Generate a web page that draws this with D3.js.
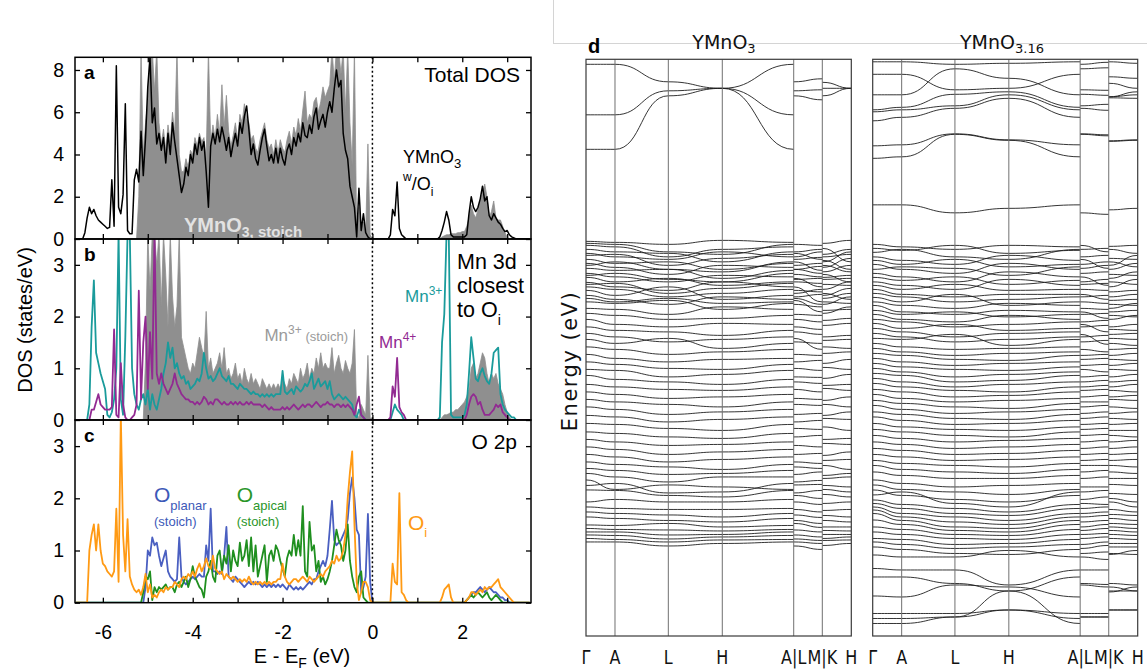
<!DOCTYPE html>
<html>
<head>
<meta charset="utf-8">
<script src="https://cdn.jsdelivr.net/npm/d3@7"></script>
<style>
  body { margin: 0; background: #fff; }
  svg { display: block; }
</style>
</head>
<body>
<svg id="chart" width="1147" height="670"></svg>
<script>
// ---- DOS data: runs of values on a 0.05 eV grid, [start energy, values] ----
const eStart = -6.6, eStep = 0.05, nPts = 203;

const totalOi = [
  [-6.40, [0.3,1.0,1.5,1.2,1.4,1.1,0.9,0.8,0.7,0.6, 0.5,0.55,2.8,0.6,8.2,1.5,1.2,2.1,6.4,0.4,
    0.25,0.25,2.8,3.3,2.7,5.1,3.0,4.8,7.2,8.6, 5.5,6.2,4.5,5.0,4.2,4.8,3.6,5.0,4.0,5.5,
    4.6,3.8,3.0,2.2,2.6,3.4,3.0,4.0,3.6,4.5, 4.0,4.8,4.2,4.6,3.2,1.5,4.4,5.0,4.5,5.2,
    4.6,5.3,4.8,4.2,4.8,3.9,4.5,5.0,4.4,5.5, 5.0,5.8,6.3,5.2,4.0,4.5,3.8,3.5,4.2,4.8,
    5.2,4.4,3.7,4.0,3.6,4.3,3.6,4.3,3.8,3.5, 4.2,4.5,4.0,4.8,4.4,5.0,4.6,5.5,4.9,4.8,
    5.4,5.0,5.8,6.2,5.2,5.6,5.9,5.3,6.0,6.5, 6.0,7.1,8.0,7.2,7.5,5.0,4.2,3.8,2.5,2.0,
    1.5,0.1,2.4,0.4,1.2,0.3,0.1]],
  [0.40, [0.2,1.4,1.1,2.7,0.5,0.2,0.1]],
  [1.50, [0.1,0.4,0.8,1.3,0.9,0.2,0.1,0.1,0.1,0.1,0.1,0.1]],
  [2.10, [0.2,1.2,2.0,1.5,1.3,1.5,1.9,2.5,1.8,2.0,1.1,0.9,1.2,1.0,0.8,0.7,0.5,0.35,0.4,0.2,0.1,0.05]]
];
const totalStoich = [
  [-5.20, [2.0,9,4.0,5.5,6.5,9,9,7.0,9,5.5, 4.5,5.2,4.2,5.4,4.6,6.0,5.0,9,4.0,3.2,
    3.2,3.8,3.4,4.2,4.0,4.8,4.4,5.0,4.6,4.8, 3.8,9,4.6,5.4,4.8,5.9,5.0,7.3,5.3,6.8,
    5.1,4.4,4.9,5.5,4.7,5.9,5.5,6.4,5.7,5.5, 4.7,4.9,4.3,4.1,4.7,5.1,5.5,4.7,4.3,4.5,
    4.0,4.7,4.1,4.7,4.3,4.1,4.7,5.1,4.5,5.3, 4.9,5.7,5.1,6.1,7.0,5.5,5.9,5.7,6.5,6.7,
    6.0,6.5,7.2,6.7,7.0,7.3,9,7.5,9,9, 7.8,9,6.0,9,5.5,3.5,9,0.2,1.5,0.5,
    0.8,0.3,4.5,0.2]],
  [1.55, [0.1,0.15,0.2,0.2,0.25,0.25,0.25,0.3,0.3,0.35,0.35,
    0.6,1.0,1.6,1.2,1.0,1.4,1.8,2.2,2.6,2.0,1.0,1.3,1.8,1.0,0.9,0.9,0.6,0.3,0.1]]
];
const mnStoich = [
  [-5.05, [1.2,3.6,2.5,3.6,3.6,3.0,3.6,2.2,3.6,2.8, 1.8,3.6,2.4,1.8,2.2,3.6,1.6,1.4,1.2,1.0,
    0.9,1.1,1.0,1.3,1.6,1.4,1.2,2.1,1.0,1.2, 0.9,1.0,1.1,1.3,1.0,1.4,0.9,1.0,0.8,0.9,
    1.1,0.8,0.9,0.7,1.0,0.8,0.7,0.9,0.7,0.8, 0.7,0.6,0.8,0.7,0.6,0.7,0.6,0.7,0.6,0.7,
    0.6,0.8,0.7,0.6,0.8,0.7,0.9,0.8,0.7,1.0, 0.8,0.9,1.1,0.8,1.0,0.9,1.2,1.0,1.3,1.0,
    1.1,1.0,1.0,1.4,0.9,1.1,1.25,1.0,0.9,1.15, 1.0,0.9,1.1,1.75,0.1,0.05,0.3,0.2,0.1,1.25,0.05]],
  [1.55, [0.05,0.1,0.1,0.12,0.15,0.15,0.2,0.2,0.25,0.3,0.35,
    0.45,0.6,1.0,1.1,0.8,0.9,1.1,1.3,1.2,0.9,0.7,0.9,0.8,0.9,0.7,0.6,0.5,0.3,0.15,0.05]]
];
const mn3Oi = [
  [-6.30, [0.3,1.8,2.7,1.3,1.1,0.9,0.75,0.6,0.1,0.05, 0.15,0.4,1.0,3.6,0.4,0.1,1.6,3.6,3.6,1.0,
    0.5,0.3,0.2,0.4,0.5,0.3,0.6,0.2,0.5,0.3, 0.2,0.4,0.6,0.9,1.1,1.5,1.2,1.4,1.0,1.1,
    0.9,0.8,0.85,0.7,0.75,0.6,0.65,0.7,0.8,0.75, 0.9,1.3,1.0,0.8,0.85,0.75,0.8,0.9,1.0,0.85,
    0.8,0.75,0.85,0.7,0.7,0.65,0.6,0.7,0.65,0.6, 0.6,0.55,0.5,0.55,0.5,0.5,0.45,0.5,0.45,0.5,
    0.45,0.5,0.45,0.5,0.5,0.5,0.95,0.55,0.5,0.55, 0.6,0.5,0.65,0.6,0.55,0.6,0.7,0.65,0.75,0.9,
    0.6,0.7,0.8,0.65,0.7,0.75,0.6,0.75,0.5,0.4, 0.45,0.5,0.45,0.4,0.45,0.4,0.35,0.3,0.1,0.05,
    0.2,0.1,0.05]],
  [0.45, [0.15,0.3,0.2,0.15,0.1]],
  [1.50, [0.05,1.5,2.05,3.6,3.6,0.1,0.05,0.05,0.05,0.05,0.05,0.1]],
  [2.10, [0.3,0.9,1.6,1.2,0.8,0.75,0.9,1.0,0.85,0.75,0.7,0.9,1.3,1.35,1.4,0.5,0.3,0.2,0.15,0.1,0.05,0.05]]
];
const mn4Oi = [
  [-6.25, [0.2,0.2,0.35,0.5,0.3,0.25,0.2,0.2,0.2,0.25, 1.75,0.1,0.05,1.1,0.3,0.05,0,0,0.05,0.1,
    0.3,2.5,0.4,1.5,2.0,0.6,1.7,0.8,3.6,0.9, 0.7,0.9,0.7,0.6,0.5,0.6,0.7,0.9,0.7,0.6,
    0.5,0.45,0.4,0.4,0.35,0.35,0.3,0.35,0.3,0.35, 0.45,0.4,0.3,0.35,0.3,0.4,0.4,0.35,0.3,0.35,
    0.3,0.3,0.35,0.3,0.35,0.3,0.35,0.3,0.3,0.35, 0.3,0.35,0.3,0.3,0.3,0.3,0.25,0.3,0.25,0.2,
    0.25,0.2,0.2,0.2,0.2,0.25,0.2,0.25,0.2,0.25, 0.3,0.25,0.2,0.25,0.3,0.25,0.3,0.3,0.25,0.3,
    0.35,0.3,0.25,0.3,0.3,0.35,0.3,0.3,0.25,0.3, 0.3,0.25,0.3,0.25,0.3,0.25,0.2,0.1,0.3,0.45,
    0.1,0.05]],
  [0.40, [0.05,0.65,0.45,1.2,0.25,0.15,0.1]],
  [2.10, [0.1,0.3,0.45,0.5,0.45,0.3,0.35,0.2,0.1,0.1,0.1,0.15,0.2,0.3,0.25,0.3,0.15,0.1,0.05]]
];
const oPlanar = [
  [-5.05, [0.3,1.0,0.9,1.25,1.1,1.15,0.9,0.7,0.85,1.0, 0.6,0.5,0.45,0.4,0.45,1.25,0.5,0.4,0.35,0.4,
    0.45,0.5,0.45,0.5,0.55,0.5,0.5,1.1,0.8,1.8, 0.6,0.6,0.55,0.6,0.55,0.9,1.45,0.5,0.45,0.4,
    0.5,0.45,0.4,0.35,0.3,0.35,0.4,0.35,0.4,0.35, 0.4,0.35,0.3,0.35,0.3,0.35,0.3,0.35,0.3,0.35,
    0.3,0.35,0.3,0.25,0.35,0.3,0.25,0.3,0.25,0.3, 0.25,0.3,0.35,0.4,0.35,0.45,0.45,0.6,0.7,0.8,
    0.7,0.9,1.4,1.95,1.2,1.1,1.15,1.2,1.3,1.4, 1.6,2.1,2.4,2.0,1.4,1.3,0.2,0.3,0.5,1.7,0.4]],
  [2.10, [0.05,0.1,0.15,0.2,0.2,0.25,0.3,0.25,0.2,0.25,0.3,0.25,0.2,0.2,0.15,0.1,0.1,0.05,0.05]]
];
const oApical = [
  [-5.10, [0.2,0.5,0.45,0.6,0.05,0.3,0.2,0.3,0.25,0.3, 0.35,0.25,0.3,0.3,0.2,0.35,0.4,0.3,0.4,0.5,
    0.3,0.45,0.7,0.5,0.4,0.3,0.25,0.1,0.5,0.6, 0.8,0.5,0.4,0.9,1.0,0.6,0.9,0.75,1.1,0.6,
    1.0,0.8,0.7,1.15,0.8,0.9,1.2,0.7,1.25,0.6, 1.1,0.5,0.7,0.9,1.1,0.4,0.9,1.0,0.8,1.1,
    1.0,0.8,0.65,0.5,0.85,1.0,0.9,1.3,0.9,1.2, 0.9,1.85,0.6,0.5,1.55,1.0,1.1,0.6,0.8,0.4,
    0.5,0.35,0.45,0.6,0.8,1.1,1.4,1.2,1.1,0.8, 1.0,1.5,0.8,0.5,0.3,0.2,0.5,0.6,0.1,0.05]],
  [2.10, [0.05,0.1,0.15,0.1,0.15,0.2,0.15,0.1,0.15,0.2,0.1,0.05,0.1,0.15,0.1,0.05]]
];
const oInter = [
  [-6.30, [1.0,1.3,1.5,1.0,1.5,1.0,0.75,0.7,0.6,0.55, 0.5,0.6,1.8,0.4,3.6,1.3,0.6,1.6,0.5,0.35,
    0.25,0.2,0.25,0.15,0.3,0.55,0.2,0.35,0.1,0.15, 0.1,0.2,0.25,0.2,0.3,0.25,0.3,0.3,0.4,0.35,
    0.3,0.45,0.5,0.45,0.55,0.5,0.6,0.5,0.65,0.75, 0.6,0.7,0.85,0.7,0.65,0.9,0.65,0.6,0.55,0.6,
    0.45,0.55,0.5,0.45,0.5,0.45,0.4,0.45,0.4,0.45, 0.4,0.5,0.4,0.35,0.4,0.35,0.4,0.35,0.4,0.35,
    0.4,0.35,0.4,0.4,0.45,0.45,0.75,0.5,0.4,0.35, 0.4,0.45,0.45,0.4,0.45,0.5,0.45,0.4,0.5,0.45,
    0.4,0.45,0.5,0.55,0.5,0.6,0.65,0.7,0.8,0.75, 0.9,0.8,0.85,1.0,1.3,2.0,2.5,2.9,1.5,0.4,
    0.05,0.2,0.4,0.4,0.3,0.05]],
  [0.45, [0.75,0.4,0.35,2.1,0.2,0.15,0.05]],
  [1.55, [0.1,0.25,0.3,0.35,0.1]],
  [2.10, [0.05,0.1,0.2,0.2,0.15,0.2,0.25,0.2,0.3,0.25,0.3,0.3,0.35,0.4,0.45,0.3,0.25,0.2,0.15,0.1,0.05]]
];

// ---- band data: [Γ, A, L, H, M, K] in eV ----
const kPos = [0, 0.1093, 0.3103, 0.5137, 0.7829, 0.8907, 1];
const kNames = ["Γ", "A", "L", "H", "A|L", "M|K", "H"];

const bandsStoich = [
  [3.40,3.40,3.05,2.92,3.11,3.04], [2.39,2.39,2.87,2.92,2.89,2.92], [1.70,1.70,2.77,2.92,2.69,2.77],
  [-0.14,-0.16,-0.20,-0.12,-0.22,-0.18], [-0.18,-0.20,-0.35,-0.40,-0.30,-0.45],
  [-0.22,-0.25,-0.45,-0.30,-0.35,-0.40], [-0.30,-0.35,-0.38,-0.55,-0.50,-0.28],
  [-0.38,-0.45,-0.50,-0.35,-0.46,-0.55], [-0.42,-0.40,-0.62,-0.48,-0.58,-0.66],
  [-0.50,-0.58,-0.55,-0.70,-0.72,-0.52], [-0.58,-0.66,-0.80,-0.62,-0.85,-0.75],
  [-0.62,-0.55,-0.70,-0.75,-0.78,-0.62], [-0.68,-0.72,-0.70,-0.88,-0.64,-0.90],
  [-0.78,-0.85,-0.95,-0.82,-0.98,-0.86], [-0.82,-0.78,-0.90,-0.95,-0.88,-0.80],
  [-0.86,-0.95,-0.88,-1.02,-1.05,-1.00], [-0.96,-1.05,-1.12,-0.95,-1.15,-1.10],
  [-1.00,-0.98,-1.18,-1.08,-1.10,-1.22], [-1.05,-1.10,-1.25,-1.18,-1.20,-1.28],
  [-1.12,-1.22,-1.05,-1.30,-1.35,-1.18], [-1.22,-1.30,-1.40,-1.25,-1.45,-1.40],
  [-1.28,-1.35,-1.28,-1.38,-1.40,-1.35], [-1.35,-1.38,-1.32,-1.50,-1.55,-1.52],
  [-1.48,-1.50,-1.60,-1.45,-1.62,-1.58], [-1.58,-1.62,-1.70,-1.68,-1.75,-1.72],
  [-1.70,-1.80,-1.85,-1.78,-1.90,-1.82], [-1.85,-1.92,-1.95,-2.02,-2.00,-2.05],
  [-1.98,-2.05,-2.15,-2.10,-2.18,-2.12], [-2.10,-2.18,-2.08,-2.28,-2.30,-2.25],
  [-2.25,-2.30,-2.40,-2.35,-2.42,-2.38], [-2.40,-2.48,-2.55,-2.50,-2.52,-2.58],
  [-2.55,-2.60,-2.68,-2.70,-2.72,-2.66], [-2.70,-2.72,-2.85,-2.80,-2.86,-2.88],
  [-2.82,-2.90,-2.95,-3.00,-2.98,-3.02], [-3.00,-3.05,-3.10,-3.12,-3.15,-3.08],
  [-3.15,-3.20,-3.28,-3.25,-3.30,-3.32], [-3.30,-3.35,-3.40,-3.45,-3.42,-3.40],
  [-3.45,-3.50,-3.60,-3.55,-3.58,-3.62], [-3.62,-3.65,-3.75,-3.70,-3.72,-3.68],
  [-3.78,-3.80,-3.88,-3.92,-3.90,-3.85], [-3.95,-3.98,-4.05,-4.08,-4.02,-4.10],
  [-4.10,-4.15,-4.22,-4.20,-4.25,-4.18], [-4.25,-4.30,-4.40,-4.35,-4.38,-4.42],
  [-4.40,-4.45,-4.55,-4.50,-4.58,-4.52], [-4.55,-4.60,-4.65,-4.70,-4.68,-4.62],
  [-4.68,-4.72,-4.80,-4.78,-4.75,-4.82], [-4.78,-4.85,-4.95,-4.85,-4.92,-4.88],
  [-4.91,-5.10,-5.01,-5.05,-5.00,-5.02], [-5.02,-4.98,-5.17,-5.15,-5.12,-5.10],
  [-5.11,-5.12,-5.22,-5.25,-5.28,-5.20], [-5.35,-5.30,-5.35,-5.35,-5.40,-5.38],
  [-5.45,-5.48,-5.50,-5.50,-5.55,-5.52], [-5.55,-5.58,-5.61,-5.65,-5.66,-5.62],
  [-5.65,-5.68,-5.72,-5.75,-5.78,-5.72], [-5.81,-5.82,-5.78,-5.85,-5.86,-5.85],
  [-5.88,-5.90,-5.91,-5.93,-5.95,-5.92], [-5.95,-5.95,-6.01,-6.00,-6.05,-6.00],
  [-6.01,-6.02,-6.09,-6.05,-6.12,-6.08], [-6.08,-6.10,-6.15,-6.11,-6.18,-6.12],
  [-6.15,-6.15,-6.23,-6.18,-6.30,-6.22]
];

const bandsOi = [
  [3.45,3.45,3.40,3.42,3.44,3.45], [3.20,3.20,2.89,2.92,2.88,3.02], [2.79,2.79,3.31,3.12,3.33,3.15],
  [2.49,2.54,2.80,2.85,2.78,2.75], [2.45,2.49,2.57,2.79,2.60,2.75], [2.27,2.34,2.52,2.72,2.48,2.73],
  [1.77,1.79,2.01,1.89,1.99,1.87], [1.52,1.55,2.00,1.88,1.97,1.86], [0.59,0.59,0.43,0.52,0.40,0.49],
  [-0.20,-0.25,-0.30,-0.22,-0.28,-0.24], [-0.28,-0.32,-0.22,-0.38,-0.35,-0.30],
  [-0.36,-0.30,-0.45,-0.50,-0.42,-0.48], [-0.45,-0.52,-0.60,-0.42,-0.55,-0.62],
  [-0.52,-0.60,-0.50,-0.65,-0.68,-0.55], [-0.60,-0.70,-0.78,-0.58,-0.75,-0.70],
  [-0.70,-0.65,-0.68,-0.82,-0.62,-0.80], [-0.78,-0.85,-0.95,-0.75,-0.90,-0.88],
  [-0.86,-0.92,-0.85,-1.00,-1.02,-0.95], [-0.95,-1.02,-1.10,-0.90,-1.12,-1.05],
  [-1.02,-1.10,-1.00,-1.12,-0.98,-1.15], [-1.10,-1.20,-1.25,-1.20,-1.22,-1.25],
  [-1.18,-1.25,-1.35,-1.30,-1.38,-1.32], [-1.26,-1.35,-1.20,-1.42,-1.30,-1.40],
  [-1.35,-1.42,-1.48,-1.38,-1.50,-1.48], [-1.42,-1.55,-1.60,-1.52,-1.58,-1.55],
  [-1.52,-1.60,-1.55,-1.65,-1.68,-1.62], [-1.60,-1.70,-1.75,-1.62,-1.72,-1.70],
  [-1.70,-1.75,-1.85,-1.80,-1.82,-1.85], [-1.78,-1.88,-1.80,-1.92,-1.95,-1.90],
  [-1.88,-1.95,-2.05,-1.98,-2.02,-2.00], [-1.98,-2.05,-2.15,-2.10,-2.12,-2.08],
  [-2.08,-2.10,-2.00,-2.22,-2.20,-2.18], [-2.18,-2.25,-2.30,-2.28,-2.35,-2.30],
  [-2.28,-2.35,-2.42,-2.38,-2.40,-2.42], [-2.38,-2.42,-2.50,-2.52,-2.48,-2.50],
  [-2.48,-2.55,-2.62,-2.58,-2.60,-2.62], [-2.58,-2.65,-2.70,-2.72,-2.75,-2.70],
  [-2.68,-2.75,-2.85,-2.80,-2.82,-2.85], [-2.78,-2.82,-2.95,-2.92,-2.92,-2.95],
  [-2.88,-2.95,-3.05,-3.00,-3.02,-3.05], [-2.98,-3.05,-3.12,-3.15,-3.10,-3.12],
  [-3.10,-3.15,-3.25,-3.22,-3.22,-3.25], [-3.20,-3.28,-3.35,-3.32,-3.35,-3.30],
  [-3.32,-3.38,-3.45,-3.48,-3.42,-3.45], [-3.42,-3.50,-3.58,-3.55,-3.55,-3.58],
  [-3.55,-3.60,-3.68,-3.70,-3.65,-3.68], [-3.65,-3.72,-3.80,-3.78,-3.78,-3.80],
  [-3.78,-3.85,-3.90,-3.92,-3.88,-3.92], [-3.90,-3.95,-4.02,-4.05,-4.00,-4.02],
  [-4.02,-4.08,-4.15,-4.12,-4.12,-4.15], [-4.15,-4.20,-4.28,-4.25,-4.25,-4.28],
  [-4.28,-4.32,-4.40,-4.38,-4.38,-4.40], [-4.40,-4.45,-4.52,-4.50,-4.50,-4.52],
  [-4.52,-4.58,-4.62,-4.65,-4.62,-4.62], [-4.62,-4.70,-4.75,-4.78,-4.72,-4.75],
  [-4.75,-4.82,-4.88,-4.88,-4.85,-4.88], [-4.91,-4.98,-5.05,-5.02,-5.05,-5.00],
  [-5.01,-5.10,-5.15,-5.20,-5.12,-5.18], [-5.11,-5.22,-5.30,-5.35,-5.25,-5.28],
  [-5.21,-5.15,-5.38,-5.45,-5.40,-5.35], [-5.31,-5.40,-5.48,-5.55,-5.45,-5.50],
  [-5.38,-5.48,-5.58,-5.62,-5.55,-5.60], [-5.45,-5.58,-5.65,-5.72,-5.62,-5.68],
  [-5.51,-5.65,-5.75,-5.80,-5.72,-5.78], [-5.58,-5.72,-5.85,-5.88,-5.80,-5.85],
  [-5.71,-5.80,-5.92,-5.95,-5.88,-5.92], [-5.85,-5.90,-6.00,-6.02,-5.98,-6.00],
  [-5.95,-6.00,-6.08,-6.10,-6.05,-6.08], [-6.08,-6.10,-6.20,-6.18,-6.15,-6.18],
  [-6.15,-6.20,-6.28,-6.25,-6.22,-6.25], [-6.25,-6.30,-6.38,-6.40,-6.35,-6.38],
  [-6.41,-6.45,-6.45,-6.32,-6.50,-6.40], [-6.68,-6.71,-6.71,-7.01,-6.71,-6.98],
  [-6.85,-6.85,-6.98,-7.13,-7.00,-7.05], [-7.23,-7.25,-7.01,-7.05,-7.05,-7.15],
  [-7.58,-7.58,-7.58,-7.51,-7.58,-7.51], [-7.68,-7.68,-7.65,-7.51,-7.65,-7.51],
  [-7.78,-7.78,-7.65,-7.13,-7.65,-7.13]
];

// ---- setup ----
const FONT = "'Liberation Sans', Arial, sans-serif";
const VFONT = "'DejaVu Sans', Verdana, sans-serif";
const svg = d3.select("#chart");

const colors = {
  stoich: "#8f8f8f", black: "#000", teal: "#1a9b9b", purple: "#922a92",
  blue: "#4a5fc1", green: "#1f8f1f", orange: "#ff9a14", grayText: "#9a9a9a"
};

function expand(runs) {
  const v = new Array(nPts).fill(0);
  runs.forEach(([e0, vals]) => {
    const i0 = Math.round((e0 - eStart) / eStep);
    vals.forEach((d, k) => { v[i0 + k] = d; });
  });
  return v.map((d, i) => ({ e: eStart + i * eStep, v: d }));
}

function rich(x, y, parts, opt = {}) {
  const t = svg.append("text").attr("x", x).attr("y", y)
    .attr("font-family", opt.font || FONT)
    .attr("fill", opt.fill || "#000")
    .attr("text-anchor", opt.anchor || "start");
  if (opt.weight) t.attr("font-weight", opt.weight);
  if (opt.spacing) t.attr("letter-spacing", opt.spacing);
  parts.forEach(p => {
    const s = t.append("tspan").text(p[0]).attr("font-size", p[1]);
    if (p[2]) s.attr("dy", p[2]);
  });
  return t;
}

// ---- DOS panels ----
const x = d3.scaleLinear().domain([-6.62, 3.53]).range([75, 531]);
const panels = [
  { name: "a", top: 57.3, bottom: 239, max: 8.6, ticks: [0, 2, 4, 6, 8] },
  { name: "b", top: 239, bottom: 420, max: 3.5, ticks: [0, 1, 2, 3] },
  { name: "c", top: 420, bottom: 602.7, max: 3.5, ticks: [0, 1, 2, 3] }
];
panels.forEach(p => {
  p.y = d3.scaleLinear().domain([0, p.max]).range([p.bottom, p.top]);
  svg.append("clipPath").attr("id", "clip-" + p.name)
    .append("rect").attr("x", 75).attr("y", p.top)
    .attr("width", 456).attr("height", p.bottom - p.top);
  p.g = svg.append("g").attr("clip-path", `url(#clip-${p.name})`);
});

const series = [
  { panel: 0, runs: totalStoich, kind: "area" },
  { panel: 0, runs: totalOi, color: colors.black, width: 1.5 },
  { panel: 1, runs: mnStoich, kind: "area" },
  { panel: 1, runs: mn3Oi, color: colors.teal, width: 1.8 },
  { panel: 1, runs: mn4Oi, color: colors.purple, width: 1.8 },
  { panel: 2, runs: oPlanar, color: colors.blue, width: 1.8 },
  { panel: 2, runs: oApical, color: colors.green, width: 1.8 },
  { panel: 2, runs: oInter, color: colors.orange, width: 1.8 }
];

series.forEach(s => {
  const p = panels[s.panel];
  const pts = expand(s.runs);
  if (s.kind === "area") {
    const area = d3.area().x(d => x(d.e)).y0(p.y(0)).y1(d => p.y(d.v));
    p.g.append("path").datum(pts).attr("d", area)
      .attr("fill", colors.stoich).attr("stroke", colors.stoich).attr("stroke-width", 0.8);
  } else {
    const line = d3.line().x(d => x(d.e)).y(d => p.y(d.v));
    p.g.append("path").datum(pts).attr("d", line)
      .attr("fill", "none").attr("stroke", s.color)
      .attr("stroke-width", s.width).attr("stroke-linejoin", "round");
  }
});

// text annotations in DOS panels
rich(184, 231.7, [["YMnO", 20], ["3", 14, 5], [", stoich", 15]], { fill: "#e2e2e2", weight: "bold" });
rich(520, 81.7, [["Total DOS", 21]], { anchor: "end" });
rich(403, 163, [["YMnO", 18], ["3", 13, 5]]);
rich(403, 181, [["w", 12], ["/O", 18, 9], ["i", 12, 6]]);
rich(457, 269.3, [["Mn 3d", 21.5]]);
rich(457, 293.3, [["closest", 21.5]]);
rich(457, 317.3, [["to O", 21.5], ["i", 14, 8]]);
rich(405, 301.7, [["Mn", 17], ["3+", 12, -7]], { fill: colors.teal });
rich(379, 348.3, [["Mn", 17], ["4+", 12, -7]], { fill: colors.purple });
rich(348, 340.7, [["Mn", 17], ["3+", 12, -7], [" (stoich)", 13, 7]], { fill: colors.grayText, anchor: "end" });
rich(517, 449.3, [["O 2p", 21]], { anchor: "end" });
rich(154, 501.7, [["O", 21], ["planar", 13, 8]], { fill: "#3d59b8" });
rich(154, 526, [["(stoich)", 13]], { fill: "#3d59b8" });
rich(236.7, 501.7, [["O", 21], ["apical", 13, 8]], { fill: "#2a962a" });
rich(236.7, 526, [["(stoich)", 13]], { fill: "#2a962a" });
rich(408, 530, [["O", 21], ["i", 13, 7]], { fill: colors.orange });

// Fermi level
svg.append("line").attr("x1", x(0)).attr("x2", x(0)).attr("y1", 57.3).attr("y2", 602.7)
  .attr("stroke", "#000").attr("stroke-width", 1.5).attr("stroke-dasharray", "2,2.5");

// axes and frames
const xTickVals = d3.range(-6, 4);
panels.forEach(p => {
  const axes = [
    svg.append("g").attr("transform", "translate(75,0)")
      .call(d3.axisLeft(p.y).tickValues(p.ticks).tickSize(-5).tickPadding(11).tickFormat(d3.format("d"))),
    svg.append("g").attr("transform", "translate(531,0)")
      .call(d3.axisRight(p.y).tickValues(p.ticks).tickSize(-5).tickFormat("")),
    svg.append("g").attr("transform", `translate(0,${p.top})`)
      .call(d3.axisTop(x).tickValues(xTickVals).tickSize(-5).tickFormat("")),
    svg.append("g").attr("transform", `translate(0,${p.bottom})`)
      .call(d3.axisBottom(x).tickValues(xTickVals).tickSize(-5).tickFormat(""))
  ];
  axes.forEach(a => {
    a.select(".domain").remove();
    a.selectAll("line").attr("stroke", "#000").attr("stroke-width", 1.3);
    a.selectAll("text").attr("font-family", FONT).attr("font-size", 19.5).attr("fill", "#000");
  });
  svg.append("rect").attr("x", 75).attr("y", p.top).attr("width", 456)
    .attr("height", p.bottom - p.top).attr("fill", "none")
    .attr("stroke", "#000").attr("stroke-width", 1.5);
  rich(84, p.top + 22, [[p.name, 19]], { weight: "bold" });
});

const xLab = svg.append("g").attr("transform", "translate(0,602.7)")
  .call(d3.axisBottom(x).tickValues([-6, -4, -2, 0, 2]).tickSize(0).tickPadding(22)
    .tickFormat(d => d < 0 ? "-" + Math.abs(d) : d));
xLab.select(".domain").remove();
xLab.selectAll("text").attr("font-family", FONT).attr("font-size", 19.5).attr("fill", "#000");

rich(302, 663.3, [["E - E", 20], ["F", 14, 5], [" (eV)", 20, -5]], { anchor: "middle" });
svg.append("text").attr("transform", "translate(32,320) rotate(-90)")
  .attr("text-anchor", "middle").attr("font-family", FONT).attr("font-size", 20)
  .text("DOS (states/eV)");

// ---- band structure panels ----
svg.append("line").attr("x1", 553).attr("x2", 1147).attr("y1", 43.5).attr("y2", 43.5)
  .attr("stroke", "#d4d4d4").attr("stroke-width", 1);
svg.append("line").attr("x1", 553.5).attr("x2", 553.5).attr("y1", 0).attr("y2", 43.5)
  .attr("stroke", "#d4d4d4").attr("stroke-width", 1);

const eScale = d3.scaleLinear().domain([-8.03, 3.5]).range([636, 59.3]);
const bandPanels = [
  { x0: 586, x1: 851.3, bands: bandsStoich, title: [["YMnO", 19], ["3", 13, 4]], tx: 724 },
  { x0: 872.7, x1: 1137.7, bands: bandsOi, title: [["YMnO", 19], ["3.16", 13, 4]], tx: 1002 }
];
const bandLine = d3.line().x(d => d[0]).y(d => d[1]).curve(d3.curveBumpX);

bandPanels.forEach((bp, pi) => {
  const k = d3.scaleLinear().domain([0, 1]).range([bp.x0, bp.x1]);
  const clipId = "bclip" + pi;
  svg.append("clipPath").attr("id", clipId).append("rect")
    .attr("x", bp.x0).attr("y", 59.3).attr("width", bp.x1 - bp.x0).attr("height", 636 - 59.3);
  const g = svg.append("g").attr("clip-path", `url(#${clipId})`);

  const segs = [];
  bp.bands.forEach(([G, A, L, H, M, K]) => {
    segs.push([[0, G], [1, A], [2, L], [3, H], [4, A]]);
    segs.push([[4, L], [5, M]]);
    segs.push([[5, K], [6, H]]);
  });
  g.selectAll("path.band").data(segs).join("path").attr("class", "band")
    .attr("d", s => bandLine(s.map(([ki, e]) => [k(kPos[ki]), eScale(e)])))
    .attr("fill", "none").attr("stroke", "#1e1e1e").attr("stroke-width", 0.9);

  g.selectAll("line.kline").data(kPos.slice(1, -1)).join("line").attr("class", "kline")
    .attr("x1", d => k(d)).attr("x2", d => k(d)).attr("y1", 59.3).attr("y2", 636)
    .attr("stroke", "#707070").attr("stroke-width", 1);

  svg.append("rect").attr("x", bp.x0).attr("y", 59.3).attr("width", bp.x1 - bp.x0)
    .attr("height", 636 - 59.3).attr("fill", "none").attr("stroke", "#3a3a3a").attr("stroke-width", 1.2);

  kPos.forEach((kp, i) => {
    svg.append("text").attr("transform", `translate(${k(kp)},663.5) scale(0.8,1)`)
      .attr("text-anchor", "middle").attr("font-family", VFONT).attr("font-size", 20)
      .attr("fill", "#111").text(kNames[i]);
  });
  rich(bp.tx, 49, bp.title, { anchor: "middle", font: VFONT, fill: "#111" });
});

rich(588, 52.7, [["d", 20]], { weight: "bold" });
svg.append("text").attr("transform", "translate(577,361) rotate(-90)")
  .attr("text-anchor", "middle").attr("font-family", VFONT).attr("font-size", 21)
  .attr("letter-spacing", 1.5).attr("fill", "#111").text("Energy (eV)");
</script>
</body>
</html>
